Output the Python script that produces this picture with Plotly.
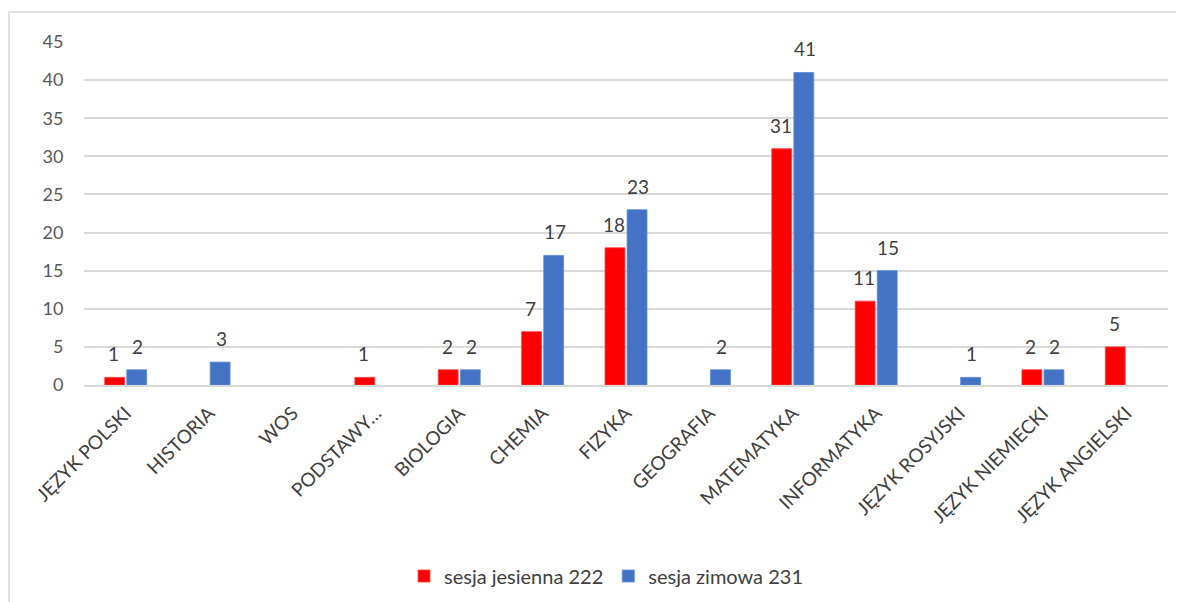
import plotly.graph_objects as go

categories = ["JĘZYK POLSKI", "HISTORIA", "WOS", "PODSTAWY…", "BIOLOGIA", "CHEMIA",
              "FIZYKA", "GEOGRAFIA", "MATEMATYKA", "INFORMATYKA", "JĘZYK ROSYJSKI",
              "JĘZYK NIEMIECKI", "JĘZYK ANGIELSKI"]
jesienna = [1, None, None, 1, 2, 7, 18, None, 31, 11, None, 2, 5]
zimowa = [2, 3, None, None, 2, 17, 23, 2, 41, 15, 1, 2, None]
series_names = ["sesja jesienna 222", "sesja zimowa 231"]
series_colors = ["#FF0000", "#4472C4"]
edge_colors = ["#FF4040", "#5B8BD6"]

FONT = "Lato, 'Open Sans', sans-serif"

# page has an 8px body margin; figure coordinates are page coordinates minus 8
OFF = 8
plot_left, plot_right, plot_top, plot_bottom = 84 - OFF, 1168 - OFF, 42 - OFF, 385 - OFF
W, H = 1184, 602
plot_h = plot_bottom - plot_top
plot_w = plot_right - plot_left

fig = go.Figure()
annotations = []
for i, (vals, name) in enumerate(zip([jesienna, zimowa], series_names)):
    fig.add_trace(go.Bar(
        x=categories, y=vals, name=name,
        marker=dict(color=series_colors[i], line=dict(color=edge_colors[i], width=0.8)),
    ))
    shift = -12 if i == 0 else 12
    for c, v in zip(categories, vals):
        if v is None:
            continue
        annotations.append(dict(
            x=c, y=v, xref="x", yref="y", text=str(v), showarrow=False,
            xanchor="center", yanchor="bottom", xshift=shift, yshift=10,
            font=dict(size=19, color="#404040", family=FONT),
        ))

fig.update_layout(
    width=W, height=H,
    margin=dict(l=plot_left, r=W - plot_right, t=plot_top, b=H - plot_bottom),
    paper_bgcolor="white", plot_bgcolor="white",
    barmode="group", bargap=0.47, bargroupgap=0.1,
    font=dict(family=FONT, color="#595959"),
    legend=dict(orientation="h", x=(606 - OFF - plot_left) / plot_w, xanchor="center",
                y=(plot_bottom - (576 - OFF)) / plot_h, yanchor="middle",
                font=dict(size=20, color="#404040", family=FONT),
                traceorder="normal"),
    xaxis=dict(tickangle=-45, tickfont=dict(size=19, color="#404040", family=FONT),
               showgrid=False, showline=True, linecolor="#d9d9d9", linewidth=1.5,
               ticks="outside", ticklen=8, tickcolor="rgba(0,0,0,0)", automargin=False),
    yaxis=dict(range=[0, 45], dtick=5, showgrid=True, gridcolor="#d9d9d9", gridwidth=1.5,
               zeroline=False, tickfont=dict(size=18, color="#595959", family=FONT),
               ticks="outside", ticklen=16, tickcolor="rgba(0,0,0,0)", automargin=False),
    annotations=annotations,
    shapes=[dict(type="rect", xref="paper", yref="paper",
                 x0=(1 - plot_left) / plot_w, x1=1.05,
                 y0=(plot_bottom - (12 - OFF)) / plot_h, y1=-0.8,
                 line=dict(color="#d9d9d9", width=1.5), fillcolor="rgba(0,0,0,0)",
                 layer="below")],
)

fig.write_html("out.html")
